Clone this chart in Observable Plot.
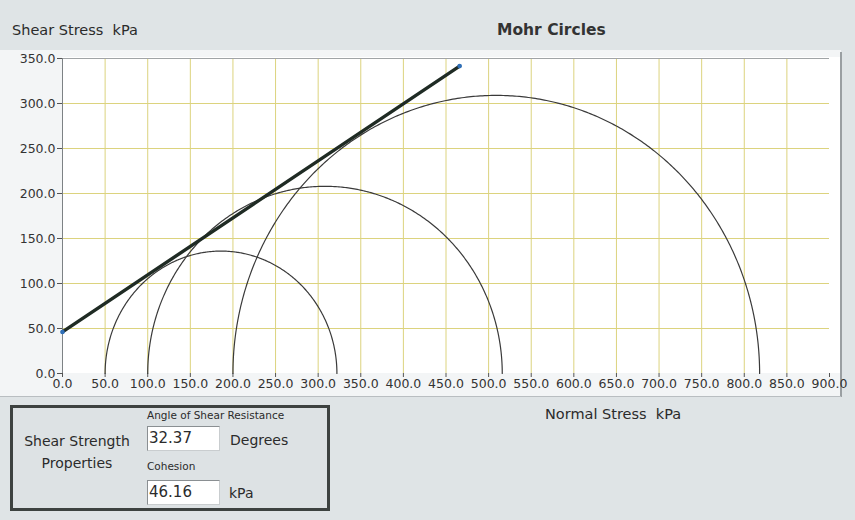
<!DOCTYPE html>
<html>
<head>
<meta charset="utf-8">
<script src="https://cdn.jsdelivr.net/npm/d3@7"></script>
<script src="https://cdn.jsdelivr.net/npm/@observablehq/plot@0.6"></script>
<style>
  html, body { margin: 0; padding: 0; }
  body { width: 855px; height: 520px; overflow: hidden; background: #dfe4e6; font-family: "DejaVu Sans", sans-serif; color: #2b2b2b; }
  #wrap { position: relative; width: 855px; height: 520px; }
  #light { position: absolute; left: 0; top: 50px; width: 841px; height: 347px; background: #f3f5f6; }
  #plotbg { position: absolute; left: 62px; top: 57px; width: 779px; height: 316px; background: #fff; }
  #rborder { position: absolute; left: 840px; top: 52px; width: 2px; height: 345px; background: #9a9fa2; }
  #sep { position: absolute; left: 0; top: 396px; width: 841px; height: 1px; background: #b9bec1; }
  #chart { position: absolute; left: 0; top: 0; }
  .t { position: absolute; white-space: pre; }
  #ytitle { left: 12px; top: 22px; font-size: 14.5px; }
  #title { left: 497px; top: 21px; font-size: 15.5px; font-weight: bold; color: #333; }
  #xtitle { left: 545px; top: 406px; font-size: 14.5px; }
  #box { position: absolute; left: 10px; top: 405px; width: 314px; height: 100px; border: 3px solid #3d4240; background: #dde2e4; }
  .inp { position: absolute; width: 70px; height: 23px; background: #fff; border: 1px solid #8a8f92; border-right-color: #c9cdcf; border-bottom-color: #c9cdcf; font-size: 15px; line-height: 23px; padding-left: 1px; }
</style>
</head>
<body>
<div id="wrap">
  <div id="light"></div>
  <div id="plotbg"></div>
  <div id="rborder"></div>
  <div id="sep"></div>
  <div id="chart"></div>
  <div class="t" id="ytitle"></div>
  <div class="t" id="title"></div>
  <div class="t" id="xtitle"></div>
  <div id="box"></div>
</div>
<script>
// ---- data ----
const chartTitle = "Mohr Circles";
const yLabel = "Shear Stress  kPa";
const xLabel = "Normal Stress  kPa";
const sigma3 = [50, 100, 200];          // minor principal stress (kPa)
const sigma1 = [322, 516, 818];         // major principal stress (kPa)
const phiDeg = 32.37;                   // angle of shear resistance (deg)
const cohesion = 46.16;                 // kPa
const envelopeX = [0, 466];             // extent of failure envelope (kPa)
const xTicks = [0, 50, 100, 150, 200, 250, 300, 350, 400, 450, 500, 550, 600, 650, 700, 750, 800, 850, 900];
const yTicks = [0, 50, 100, 150, 200, 250, 300, 350];
const boxTitle = ["Shear Strength", "Properties"];
const phiLabel = "Angle of Shear Resistance";
const phiUnit = "Degrees";
const cLabel = "Cohesion";
const cUnit = "kPa";

// ---- derived tables ----
const arcs = [];
sigma3.forEach((s3, i) => {
  const s1 = sigma1[i];
  const c = (s1 + s3) / 2, r = (s1 - s3) / 2;
  for (let k = 0; k <= 360; k++) {
    const a = Math.PI - (k / 360) * Math.PI;
    arcs.push({circle: i, x: c + r * Math.cos(a), y: r * Math.sin(a)});
  }
});
const tanPhi = Math.tan(phiDeg * Math.PI / 180);
const envelope = envelopeX.map(x => ({x, y: cohesion + tanPhi * x}));

const fmt = d => d.toFixed(1);
const gridColor = "#dcd37e";

const plot = Plot.plot({
  width: 855,
  height: 400,
  marginLeft: 62,
  marginRight: 26,
  marginTop: 58,
  marginBottom: 27,
  style: {background: "transparent", fontFamily: "DejaVu Sans, sans-serif", fontSize: "13px", color: "#333", overflow: "visible"},
  x: {domain: [0, 900]},
  y: {domain: [0, 350]},
  marks: [
    Plot.gridX(xTicks.filter(d => d > 0 && d < 900), {stroke: gridColor, strokeOpacity: 1}),
    Plot.gridY(yTicks.filter(d => d > 0 && d < 350), {stroke: gridColor, strokeOpacity: 1}),
    Plot.ruleY([350], {stroke: "#a0a4a6"}),
    Plot.ruleX([0], {stroke: "#7d8285"}),
    Plot.axisX({ticks: xTicks, tickFormat: fmt, tickSize: 4, tickPadding: 2, label: null, stroke: "#555", fontSize: 12.5}),
    Plot.axisY({ticks: yTicks, tickFormat: fmt, tickSize: 5, tickPadding: 2, label: null, stroke: "#555", fontSize: 12.5}),
    Plot.line(arcs, {x: "x", y: "y", z: "circle", stroke: "#3a3a3a", strokeWidth: 1.2}),
    Plot.line(envelope, {x: "x", y: "y", stroke: "#1f2b24", strokeWidth: 3.4}),
    Plot.dot(envelope, {x: "x", y: "y", r: 2.3, fill: "#2f6fb8", stroke: "none"})
  ]
});
document.getElementById("chart").appendChild(plot);

document.getElementById("ytitle").textContent = yLabel;
document.getElementById("title").textContent = chartTitle;
document.getElementById("xtitle").textContent = xLabel;

const box = document.getElementById("box");
function addText(txt, left, top, size, cls) {
  const d = document.createElement("div");
  d.className = cls || "t";
  d.style.left = left + "px";
  d.style.top = top + "px";
  if (size) d.style.fontSize = size + "px";
  d.textContent = txt;
  box.appendChild(d);
  return d;
}
const st1 = addText(boxTitle[0], 0, 25, 14);
st1.style.width = "128px"; st1.style.textAlign = "center";
const st2 = addText(boxTitle[1], 0, 47, 14);
st2.style.width = "128px"; st2.style.textAlign = "center";
addText(phiLabel, 134, 1, 10.5);
addText(phiDeg.toFixed(2), 134, 18, 0, "inp");
addText(phiUnit, 217, 24, 14);
addText(cLabel, 134, 52, 10.5);
addText(cohesion.toFixed(2), 134, 72, 0, "inp");
addText(cUnit, 216, 77, 14);
</script>
</body>
</html>
